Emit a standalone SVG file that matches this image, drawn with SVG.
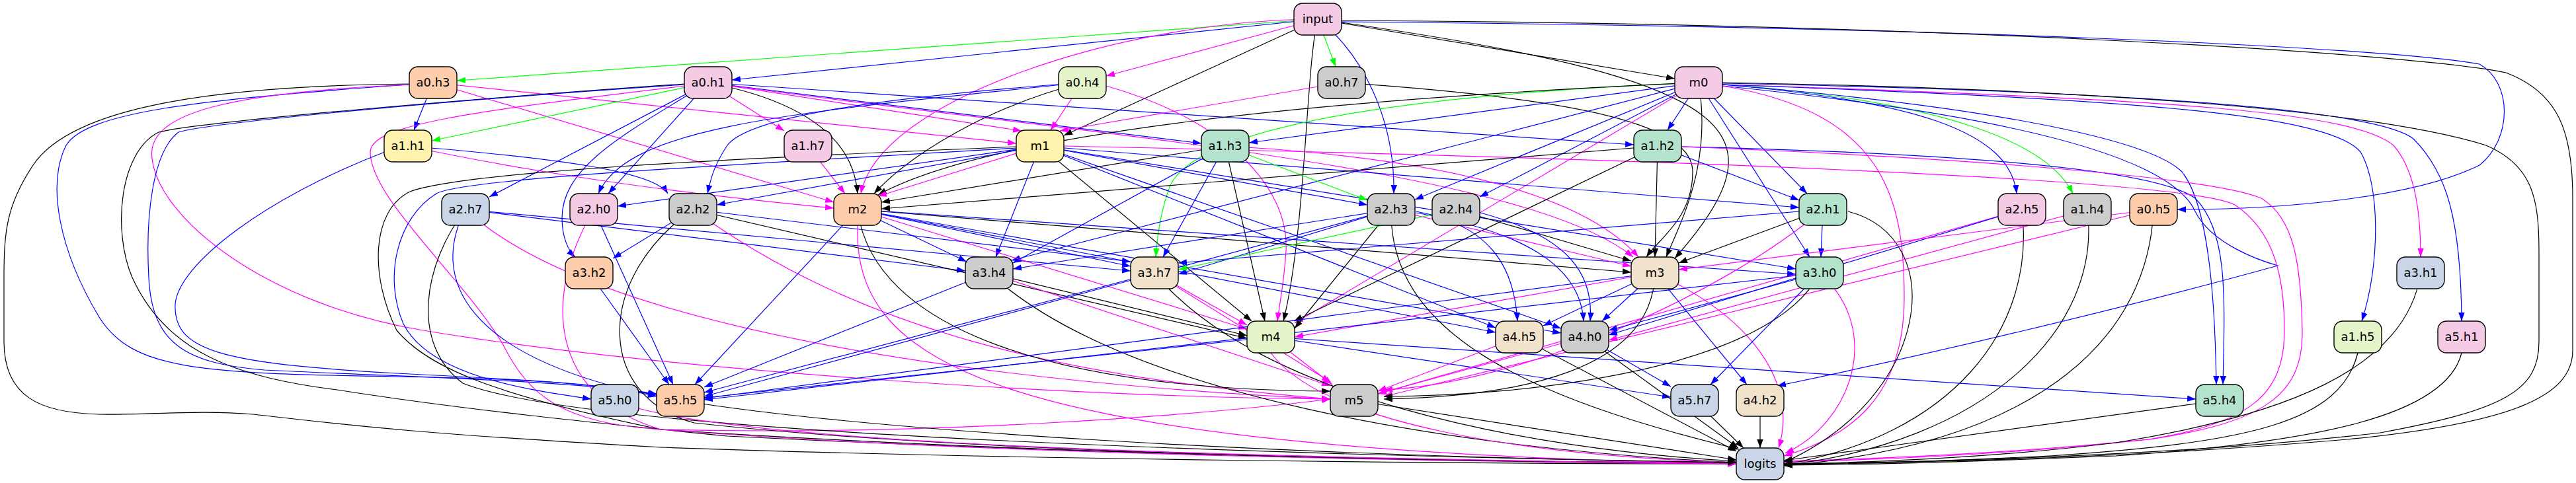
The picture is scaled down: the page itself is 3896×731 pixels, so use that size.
<svg xmlns="http://www.w3.org/2000/svg" width="3896" height="731" viewBox="0 0 3896 731">
<style>
.e{fill:none;stroke-width:1.2}
.k{stroke:#000;marker-end:url(#ak)}
.b{stroke:#00f;marker-end:url(#ab)}
.m{stroke:#f0f;marker-end:url(#am)}
.g{stroke:#0f0;marker-end:url(#ag)}
.node rect{stroke:#000;stroke-width:1.4}
.node text{font-family:"DejaVu Sans","Liberation Sans",sans-serif;font-size:18px;text-anchor:middle;fill:#000}
</style>
<defs>
<marker id="ak" markerUnits="userSpaceOnUse" markerWidth="14" markerHeight="10" refX="13" refY="4.7" orient="auto"><path d="M0,0 L13,4.7 L0,9.4 z" fill="#000"/></marker>
<marker id="ab" markerUnits="userSpaceOnUse" markerWidth="14" markerHeight="10" refX="13" refY="4.7" orient="auto"><path d="M0,0 L13,4.7 L0,9.4 z" fill="#00f"/></marker>
<marker id="am" markerUnits="userSpaceOnUse" markerWidth="14" markerHeight="10" refX="13" refY="4.7" orient="auto"><path d="M0,0 L13,4.7 L0,9.4 z" fill="#f0f"/></marker>
<marker id="ag" markerUnits="userSpaceOnUse" markerWidth="14" markerHeight="10" refX="13" refY="4.7" orient="auto"><path d="M0,0 L13,4.7 L0,9.4 z" fill="#0f0"/></marker>
</defs>
<rect width="3896" height="731" fill="#fff"/>
<g id="edges">
<path class="e g" d="M1993,29 L691,122"/>
<path class="e b" d="M1993,29 L1107,121"/>
<path class="e m" d="M1993,29 L1673,115"/>
<path class="e g" d="M1993,29 L2020,101"/>
<path class="e k" d="M1993,29 L2533,119"/>
<path class="e k" d="M1993,29 L1609,205"/>
<path class="e m" d="M1993,29 C1700,30 1330,150 1302,293"/>
<path class="e b" d="M1993,29 C2060,80 2110,180 2108,293"/>
<path class="e k" d="M1993,29 C2650,120 2700,200 2533,391"/>
<path class="e k" d="M1993,29 C1975,100 1975,350 1941,486"/>
<path class="e b" d="M2029,33 C2900,40 3600,70 3750,97 C3800,125 3800,210 3750,250 C3650,300 3450,317 3293,317"/>
<path class="e k" d="M2029,31 C2900,35 3650,80 3790,110 C3870,140 3891,200 3891,300 L3891,530 C3891,600 3800,640 3550,665 C3200,695 2900,700 2698,702"/>
<path class="e b" d="M655,125 L626,197"/>
<path class="e m" d="M655,125 L1537,217"/>
<path class="e m" d="M655,125 L1261,306"/>
<path class="e k" d="M619,127 C330,130 110,160 50,250 C10,310 6,350 6,420 L6,517 C6,600 60,625 150,627 C230,628 300,620 383,627 C500,640 600,655 1000,677 C1500,695 2200,702 2626,702"/>
<path class="e b" d="M619,128 C300,150 130,170 100,220 C70,280 90,380 150,480 C200,560 300,565 600,570 C800,573 900,580 993,598"/>
<path class="e m" d="M619,128 C350,140 220,170 230,240 C240,330 400,460 640,500 C1000,560 1600,600 2012,604"/>
<path class="e g" d="M1071,125 L653,213"/>
<path class="e m" d="M1071,125 L1186,198"/>
<path class="e m" d="M1071,125 L1545,198"/>
<path class="e b" d="M1071,125 L1817,217"/>
<path class="e b" d="M1071,125 L2471,219"/>
<path class="e k" d="M1071,125 C1200,150 1290,200 1297,293"/>
<path class="e b" d="M1071,125 L740,298"/>
<path class="e b" d="M1071,125 L920,293"/>
<path class="e b" d="M1071,125 C950,200 850,250 850,330 C850,360 860,380 870,389"/>
<path class="e k" d="M1035,127 C700,150 300,185 240,200 C180,230 170,350 200,420 C250,530 350,570 510,590 C700,620 900,640 1100,660 C1700,690 2300,700 2626,700"/>
<path class="e b" d="M1035,128 C700,150 320,185 270,200 C230,230 220,330 225,420 C230,520 280,550 400,560 C600,570 850,575 993,596"/>
<path class="e m" d="M1071,125 C1600,200 2300,250 2470,389"/>
<path class="e m" d="M1035,130 C700,170 560,190 560,230 C560,300 700,420 760,520 C800,600 850,640 1000,650 C1400,660 1800,630 2012,604"/>
<path class="e m" d="M1637,125 L1589,197"/>
<path class="e k" d="M1637,125 C1500,160 1380,230 1322,293"/>
<path class="e b" d="M1637,125 C1300,150 1130,180 1100,220 C1080,250 1075,270 1070,293"/>
<path class="e b" d="M1637,125 C1200,170 950,190 905,293"/>
<path class="e m" d="M1673,130 C1850,180 1950,280 1945,380 C1942,430 1935,460 1932,486"/>
<path class="e m" d="M2029,125 L1603,198"/>
<path class="e k" d="M2029,125 C2400,150 2560,190 2560,260 C2560,330 2510,360 2490,389"/>
<path class="e b" d="M2569,125 L1889,216"/>
<path class="e b" d="M2569,125 L2522,197"/>
<path class="e b" d="M2569,125 L2733,293"/>
<path class="e b" d="M2569,125 L2140,302"/>
<path class="e b" d="M2569,125 L2238,298"/>
<path class="e b" d="M2569,125 C2900,150 3040,200 3050,293"/>
<path class="e g" d="M2569,125 C2950,150 3100,220 3135,293"/>
<path class="e g" d="M2569,125 C2200,140 1820,180 1770,280 C1755,320 1750,360 1748,389"/>
<path class="e k" d="M2569,125 C2000,150 1500,200 1328,295"/>
<path class="e k" d="M2569,125 C2590,250 2540,340 2520,389"/>
<path class="e m" d="M2569,125 L1958,489"/>
<path class="e b" d="M2569,125 L2737,389"/>
<path class="e m" d="M2605,128 C3300,150 3560,170 3620,220 C3655,260 3661,330 3661,389"/>
<path class="e b" d="M2605,128 C3200,150 3520,170 3570,230 C3600,280 3600,400 3572,486"/>
<path class="e b" d="M2605,126 C3300,140 3600,170 3650,210 C3700,260 3722,330 3723,486"/>
<path class="e b" d="M2605,128 C3000,160 3250,210 3300,260 C3340,310 3350,450 3352,582"/>
<path class="e b" d="M2507,221 C2900,230 3250,250 3320,300 C3370,350 3365,450 3362,582"/>
<path class="e k" d="M2605,125 C3200,135 3600,170 3760,220 C3830,250 3840,300 3840,380 L3840,517 C3840,590 3790,620 3600,655 C3300,690 2900,700 2698,702"/>
<path class="e b" d="M2605,130 C3000,170 3280,230 3320,320 C3345,370 3420,395 3445,402 C3200,470 2900,540 2688,584"/>
<path class="e m" d="M2605,130 C2850,170 2880,300 2880,450 C2880,600 2800,660 2698,690"/>
<path class="e b" d="M2569,125 L1530,394"/>
<path class="e b" d="M617,221 C850,240 990,260 1010,293"/>
<path class="e m" d="M617,221 C800,260 1000,290 1261,315"/>
<path class="e b" d="M582,230 C400,300 270,400 265,460 C262,530 330,550 600,565 C800,575 900,580 993,598"/>
<path class="e m" d="M1222,221 L1278,293"/>
<path class="e m" d="M1573,221 L1328,297"/>
<path class="e b" d="M1573,221 L934,312"/>
<path class="e b" d="M1573,221 L1084,310"/>
<path class="e b" d="M1573,221 L2068,310"/>
<path class="e b" d="M1573,221 L2721,314"/>
<path class="e b" d="M1573,221 L1506,389"/>
<path class="e k" d="M1573,221 L1893,486"/>
<path class="e b" d="M1573,221 L2716,407"/>
<path class="e k" d="M1538,222 C1100,240 700,260 620,290 C560,320 560,420 600,500 C650,560 760,600 1000,650 C1600,690 2300,700 2626,701"/>
<path class="e b" d="M1538,224 C1100,250 700,270 660,293 C600,330 580,420 610,490 C650,570 800,590 894,604"/>
<path class="e b" d="M1573,221 L2262,496"/>
<path class="e b" d="M1573,221 L2361,497"/>
<path class="e m" d="M1609,221 C2500,240 3300,270 3380,310 C3440,350 3455,420 3455,500 C3455,600 3400,640 3250,665 C3000,692 2800,697 2698,699"/>
<path class="e k" d="M1853,221 L1333,306"/>
<path class="e b" d="M1853,221 L1532,398"/>
<path class="e b" d="M1853,221 L1759,389"/>
<path class="e g" d="M1853,221 L2068,303"/>
<path class="e k" d="M1853,221 L1913,486"/>
<path class="e m" d="M1853,221 C2200,240 2400,300 2478,389"/>
<path class="e k" d="M2507,221 L1333,316"/>
<path class="e b" d="M2507,221 L2721,303"/>
<path class="e k" d="M2507,221 L2503,389"/>
<path class="e m" d="M2543,222 C3000,240 3350,270 3420,300 C3470,330 3480,400 3482,500 C3484,600 3420,640 3250,665 C3000,690 2800,695 2698,698"/>
<path class="e k" d="M2507,221 L1957,486"/>
<path class="e b" d="M704,317 L1710,410"/>
<path class="e b" d="M704,317 L1460,410"/>
<path class="e b" d="M704,317 C650,420 700,540 993,600"/>
<path class="e k" d="M704,317 C640,400 620,520 700,580 C900,660 2000,690 2626,700"/>
<path class="e m" d="M704,317 C900,500 1500,580 2012,604"/>
<path class="e m" d="M898,317 C820,450 830,600 1000,650 C1500,690 2300,700 2626,702"/>
<path class="e b" d="M898,317 L1018,582"/>
<path class="e b" d="M1048,317 L927,391"/>
<path class="e k" d="M1048,317 L1886,512"/>
<path class="e k" d="M1048,317 C900,420 900,600 1050,640 C1500,690 2300,700 2626,701"/>
<path class="e m" d="M1048,317 C1300,500 1600,570 2012,604"/>
<path class="e b" d="M1048,317 L1710,396"/>
<path class="e b" d="M1297,317 L1462,396"/>
<path class="e b" d="M1297,317 L1710,403"/>
<path class="e k" d="M1297,317 L2467,412"/>
<path class="e b" d="M1297,317 L2262,503"/>
<path class="e b" d="M1297,317 L2361,504"/>
<path class="e b" d="M1297,317 L1051,582"/>
<path class="e m" d="M1297,341 C1290,550 1500,680 2626,702"/>
<path class="e k" d="M1297,317 C1320,500 1600,590 2012,592"/>
<path class="e b" d="M1297,317 L2716,415"/>
<path class="e m" d="M1297,317 L1886,498"/>
<path class="e b" d="M2104,317 L1532,407"/>
<path class="e b" d="M2104,317 L1782,415"/>
<path class="e m" d="M2104,317 L2467,403"/>
<path class="e b" d="M2142,320 C2250,340 2290,400 2295,486"/>
<path class="e b" d="M2142,322 C2300,350 2390,400 2395,486"/>
<path class="e k" d="M2104,317 L1958,497"/>
<path class="e k" d="M2104,317 C2100,500 2300,600 2630,680"/>
<path class="e b" d="M2104,317 L1065,600"/>
<path class="e g" d="M2202,317 L1782,408"/>
<path class="e k" d="M2202,317 L2467,395"/>
<path class="e b" d="M2239,322 C2380,360 2410,420 2405,486"/>
<path class="e b" d="M2757,317 L2754,389"/>
<path class="e k" d="M2757,317 L2539,398"/>
<path class="e k" d="M2795,320 C2950,360 2920,600 2698,700"/>
<path class="e m" d="M2757,317 C2600,450 2300,580 2093,590"/>
<path class="e b" d="M2757,317 L1782,398"/>
<path class="e k" d="M3058,317 C3080,500 2950,660 2698,703"/>
<path class="e m" d="M3058,317 L2084,596"/>
<path class="e b" d="M3058,317 L2433,507"/>
<path class="e k" d="M3157,317 C3180,500 3000,670 2698,704"/>
<path class="e m" d="M3157,317 L2433,515"/>
<path class="e k" d="M3257,317 C3250,500 3100,670 2698,705"/>
<path class="e m" d="M3257,317 L2539,408"/>
<path class="e m" d="M3257,317 L2093,600"/>
<path class="e b" d="M891,413 L1012,582"/>
<path class="e b" d="M1496,413 L1065,586"/>
<path class="e k" d="M1496,413 L1886,508"/>
<path class="e m" d="M1496,413 L2012,584"/>
<path class="e k" d="M1496,413 C1700,600 2200,680 2626,700"/>
<path class="e m" d="M1746,413 L1886,492"/>
<path class="e b" d="M1746,413 L1065,594"/>
<path class="e k" d="M1746,413 C1900,600 2300,680 2626,698"/>
<path class="e m" d="M1746,413 L2012,578"/>
<path class="e b" d="M2503,413 L2334,493"/>
<path class="e b" d="M2503,413 L2423,486"/>
<path class="e k" d="M2503,413 C2500,560 2300,600 2093,604"/>
<path class="e b" d="M2503,413 L2642,582"/>
<path class="e m" d="M2503,413 C2650,480 2720,580 2690,678"/>
<path class="e m" d="M2503,413 L1958,510"/>
<path class="e b" d="M2503,413 L1065,603"/>
<path class="e b" d="M2752,413 L2433,500"/>
<path class="e k" d="M2752,413 C2680,560 2300,600 2093,600"/>
<path class="e b" d="M2752,413 L2587,582"/>
<path class="e m" d="M2752,413 C2850,500 2800,640 2700,686"/>
<path class="e b" d="M2752,413 L1065,605"/>
<path class="e k" d="M3661,413 C3640,560 3450,630 3200,670 C3000,695 2800,700 2698,703"/>
<path class="e b" d="M1922,510 L1065,602"/>
<path class="e b" d="M1922,510 L2527,601"/>
<path class="e b" d="M1922,510 L3321,604"/>
<path class="e m" d="M1922,510 L2015,582"/>
<path class="e m" d="M1922,534 C2000,640 2300,690 2626,700"/>
<path class="e m" d="M2298,510 L2084,592"/>
<path class="e k" d="M2298,510 L2626,683"/>
<path class="e m" d="M2397,510 L2084,596"/>
<path class="e b" d="M2397,510 L2527,585"/>
<path class="e k" d="M2397,510 L2629,678"/>
<path class="e k" d="M3566,534 C3540,640 3400,670 3100,690 C2900,700 2800,702 2698,703"/>
<path class="e k" d="M3723,534 C3700,630 3500,670 3200,690 C2900,702 2800,703 2698,704"/>
<path class="e k" d="M3357,606 L2698,697"/>
<path class="e m" d="M930,606 C1050,660 1600,690 2626,702"/>
<path class="e k" d="M1029,606 C1300,650 1900,690 2626,700"/>
<path class="e k" d="M2048,606 L2626,696"/>
<path class="e k" d="M2563,606 L2637,678"/>
<path class="e k" d="M2662,606 L2662,678"/>
</g>
<g id="nodes">
<g id="n-input" class="node"><rect x="1957" y="5" width="72" height="48" rx="13" fill="#f4cae4"/><text x="1993" y="35">input</text></g>
<g id="n-a0h3" class="node"><rect x="619" y="101" width="72" height="48" rx="13" fill="#fdcdac"/><text x="655" y="131">a0.h3</text></g>
<g id="n-a0h1" class="node"><rect x="1035" y="101" width="72" height="48" rx="13" fill="#f4cae4"/><text x="1071" y="131">a0.h1</text></g>
<g id="n-a0h4" class="node"><rect x="1601" y="101" width="72" height="48" rx="13" fill="#e6f5c9"/><text x="1637" y="131">a0.h4</text></g>
<g id="n-a0h7" class="node"><rect x="1993" y="101" width="72" height="48" rx="13" fill="#cccccc"/><text x="2029" y="131">a0.h7</text></g>
<g id="n-m0" class="node"><rect x="2533" y="101" width="72" height="48" rx="13" fill="#f4cae4"/><text x="2569" y="131">m0</text></g>
<g id="n-a1h1" class="node"><rect x="581" y="197" width="72" height="48" rx="13" fill="#fff2ae"/><text x="617" y="227">a1.h1</text></g>
<g id="n-a1h7" class="node"><rect x="1186" y="197" width="72" height="48" rx="13" fill="#f4cae4"/><text x="1222" y="227">a1.h7</text></g>
<g id="n-m1" class="node"><rect x="1537" y="197" width="72" height="48" rx="13" fill="#fff2ae"/><text x="1573" y="227">m1</text></g>
<g id="n-a1h3" class="node"><rect x="1817" y="197" width="72" height="48" rx="13" fill="#b3e2cd"/><text x="1853" y="227">a1.h3</text></g>
<g id="n-a1h2" class="node"><rect x="2471" y="197" width="72" height="48" rx="13" fill="#b3e2cd"/><text x="2507" y="227">a1.h2</text></g>
<g id="n-a2h7" class="node"><rect x="668" y="293" width="72" height="48" rx="13" fill="#cbd5e8"/><text x="704" y="323">a2.h7</text></g>
<g id="n-a2h0" class="node"><rect x="862" y="293" width="72" height="48" rx="13" fill="#f4cae4"/><text x="898" y="323">a2.h0</text></g>
<g id="n-a2h2" class="node"><rect x="1012" y="293" width="72" height="48" rx="13" fill="#cccccc"/><text x="1048" y="323">a2.h2</text></g>
<g id="n-m2" class="node"><rect x="1261" y="293" width="72" height="48" rx="13" fill="#fdcdac"/><text x="1297" y="323">m2</text></g>
<g id="n-a2h3" class="node"><rect x="2068" y="293" width="72" height="48" rx="13" fill="#cccccc"/><text x="2104" y="323">a2.h3</text></g>
<g id="n-a2h4" class="node"><rect x="2166" y="293" width="72" height="48" rx="13" fill="#cccccc"/><text x="2202" y="323">a2.h4</text></g>
<g id="n-a2h1" class="node"><rect x="2721" y="293" width="72" height="48" rx="13" fill="#b3e2cd"/><text x="2757" y="323">a2.h1</text></g>
<g id="n-a2h5" class="node"><rect x="3022" y="293" width="72" height="48" rx="13" fill="#f4cae4"/><text x="3058" y="323">a2.h5</text></g>
<g id="n-a1h4" class="node"><rect x="3121" y="293" width="72" height="48" rx="13" fill="#cccccc"/><text x="3157" y="323">a1.h4</text></g>
<g id="n-a0h5" class="node"><rect x="3221" y="293" width="72" height="48" rx="13" fill="#fdcdac"/><text x="3257" y="323">a0.h5</text></g>
<g id="n-a3h2" class="node"><rect x="855" y="389" width="72" height="48" rx="13" fill="#fdcdac"/><text x="891" y="419">a3.h2</text></g>
<g id="n-a3h4" class="node"><rect x="1460" y="389" width="72" height="48" rx="13" fill="#cccccc"/><text x="1496" y="419">a3.h4</text></g>
<g id="n-a3h7" class="node"><rect x="1710" y="389" width="72" height="48" rx="13" fill="#f1e2cc"/><text x="1746" y="419">a3.h7</text></g>
<g id="n-m3" class="node"><rect x="2467" y="389" width="72" height="48" rx="13" fill="#f1e2cc"/><text x="2503" y="419">m3</text></g>
<g id="n-a3h0" class="node"><rect x="2716" y="389" width="72" height="48" rx="13" fill="#b3e2cd"/><text x="2752" y="419">a3.h0</text></g>
<g id="n-a3h1" class="node"><rect x="3625" y="389" width="72" height="48" rx="13" fill="#cbd5e8"/><text x="3661" y="419">a3.h1</text></g>
<g id="n-m4" class="node"><rect x="1886" y="486" width="72" height="48" rx="13" fill="#e6f5c9"/><text x="1922" y="516">m4</text></g>
<g id="n-a4h5" class="node"><rect x="2262" y="486" width="72" height="48" rx="13" fill="#f1e2cc"/><text x="2298" y="516">a4.h5</text></g>
<g id="n-a4h0" class="node"><rect x="2361" y="486" width="72" height="48" rx="13" fill="#cccccc"/><text x="2397" y="516">a4.h0</text></g>
<g id="n-a1h5" class="node"><rect x="3530" y="486" width="72" height="48" rx="13" fill="#e6f5c9"/><text x="3566" y="516">a1.h5</text></g>
<g id="n-a5h1" class="node"><rect x="3687" y="486" width="72" height="48" rx="13" fill="#f4cae4"/><text x="3723" y="516">a5.h1</text></g>
<g id="n-a5h0" class="node"><rect x="894" y="582" width="72" height="48" rx="13" fill="#cbd5e8"/><text x="930" y="612">a5.h0</text></g>
<g id="n-a5h5" class="node"><rect x="993" y="582" width="72" height="48" rx="13" fill="#fdcdac"/><text x="1029" y="612">a5.h5</text></g>
<g id="n-m5" class="node"><rect x="2012" y="582" width="72" height="48" rx="13" fill="#cccccc"/><text x="2048" y="612">m5</text></g>
<g id="n-a5h7" class="node"><rect x="2527" y="582" width="72" height="48" rx="13" fill="#cbd5e8"/><text x="2563" y="612">a5.h7</text></g>
<g id="n-a4h2" class="node"><rect x="2626" y="582" width="72" height="48" rx="13" fill="#f1e2cc"/><text x="2662" y="612">a4.h2</text></g>
<g id="n-a5h4" class="node"><rect x="3321" y="582" width="72" height="48" rx="13" fill="#b3e2cd"/><text x="3357" y="612">a5.h4</text></g>
<g id="n-logits" class="node"><rect x="2626" y="678" width="72" height="48" rx="13" fill="#cbd5e8"/><text x="2662" y="708">logits</text></g>
</g>
</svg>
